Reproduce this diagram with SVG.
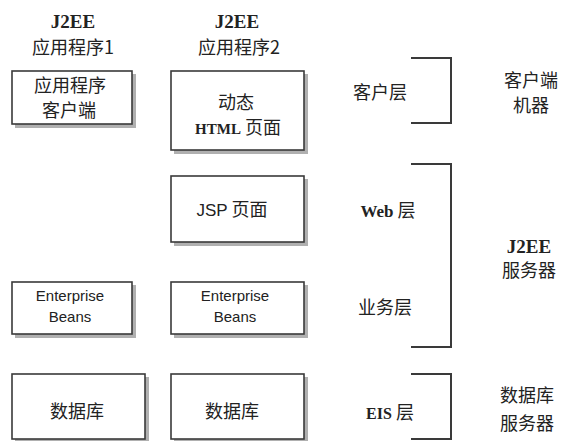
<svg xmlns="http://www.w3.org/2000/svg" width="564" height="441" viewBox="0 0 564 441">
<defs>
<style>
.box{fill:#fff;stroke:#3a3a3a;stroke-width:1.6}
.shadow{fill:#b0b0b0}
.br{fill:none;stroke:#3a3a3a;stroke-width:2}
.t{font-family:"Liberation Serif","Noto Sans CJK SC",serif;font-size:19px;fill:#222;text-anchor:middle;font-weight:bold}
.c{font-family:"Noto Sans CJK SC",sans-serif;font-size:18px;fill:#222;text-anchor:middle}
.s{font-family:"Liberation Sans",Arial,sans-serif;font-size:15px;fill:#222;text-anchor:middle}
</style>
</defs>
<rect width="564" height="441" fill="#fff"/>
<g id="title1"><text class="t" x="73" y="28" font-size="16">J2EE</text><text class="c" x="73" y="54">应用程序1</text></g>
<g id="title2"><text class="t" x="237" y="28" font-size="16">J2EE</text><text class="c" x="239" y="54">应用程序2</text></g>

<g id="appclient"><rect class="shadow" x="15" y="74" width="121" height="54"/><rect class="box" x="12" y="71" width="120" height="53"/>
<text class="c" x="70" y="92" font-size="17">应用程序</text><text class="c" x="69" y="117" font-size="17">客户端</text></g>
<g id="html"><rect class="shadow" x="174" y="74" width="134" height="80"/><rect class="box" x="171" y="71" width="133" height="79"/>
<text class="c" x="236" y="109">动态</text><text class="c" x="238" y="134"><tspan font-family="Liberation Serif" font-weight="bold" font-size="15">HTML</tspan> 页面</text></g>
<g id="jsp"><rect class="shadow" x="174" y="179" width="134" height="67"/><rect class="box" x="171" y="176" width="133" height="66"/>
<text class="c" x="232" y="216"><tspan font-family="Liberation Sans" font-size="17">JSP</tspan> 页面</text></g>
<g id="ejb1"><rect class="shadow" x="15" y="285" width="121" height="53"/><rect class="box" x="12" y="282" width="120" height="52"/>
<text class="s" x="70" y="301">Enterprise</text><text class="s" x="70" y="322">Beans</text></g>
<g id="ejb2"><rect class="shadow" x="174" y="285" width="134" height="53"/><rect class="box" x="171" y="282" width="133" height="52"/>
<text class="s" x="235" y="301">Enterprise</text><text class="s" x="235" y="322">Beans</text></g>
<g id="db1"><rect class="shadow" x="15" y="377" width="134" height="66"/><rect class="box" x="12" y="374" width="133" height="65"/>
<text class="c" x="77" y="418" font-size="20">数据库</text></g>
<g id="db2"><rect class="shadow" x="174" y="377" width="134" height="66"/><rect class="box" x="171" y="374" width="133" height="65"/>
<text class="c" x="232" y="418" font-size="20">数据库</text></g>

<g id="tiers">
<text class="c" x="380" y="99" font-size="19">客户层</text>
<text class="c" x="388" y="217" font-size="19"><tspan font-family="Liberation Serif" font-weight="bold" font-size="17">Web</tspan> 层</text>
<text class="c" x="385" y="314" font-size="19">业务层</text>
<text class="c" x="390" y="419" font-size="19"><tspan font-family="Liberation Serif" font-weight="bold" font-size="16">EIS</tspan> 层</text>
</g>
<g id="connectors">
<path class="br" d="M411 58 H451 V123 H411"/>
<path class="br" d="M411 164 H451 V347 H411"/>
<path class="br" d="M411 374 H451 V439 H411"/>
</g>
<g id="machines">
<text class="c" x="531" y="87" font-size="17">客户端</text><text class="c" x="531" y="112" font-size="17">机器</text>
<text class="t" x="529" y="253" font-size="16">J2EE</text><text class="c" x="529" y="277">服务器</text>
<text class="c" x="527" y="402">数据库</text><text class="c" x="527" y="430">服务器</text>
</g>
</svg>
